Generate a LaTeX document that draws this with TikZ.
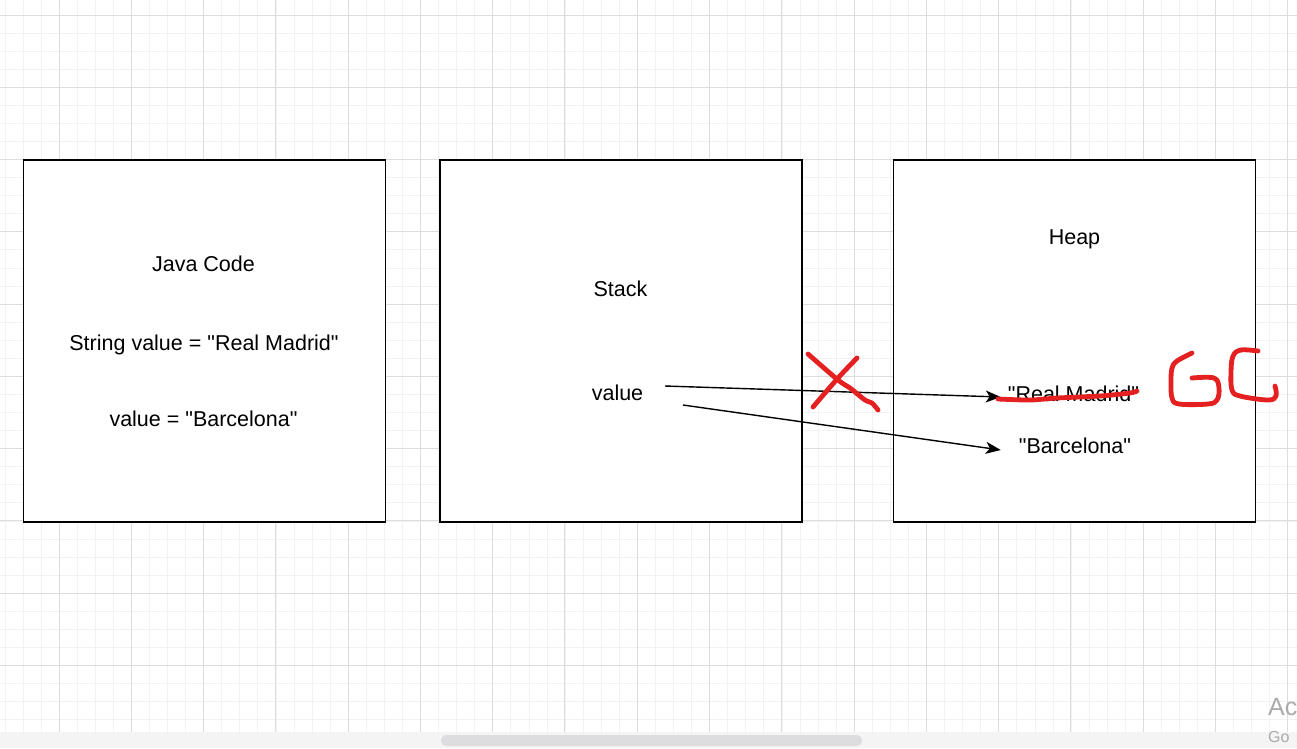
\documentclass[tikz,border=0pt]{standalone}
\usepackage{fontspec}
\setmainfont{Liberation Sans}[Ligatures=TeXOff]
\usetikzlibrary{positioning,arrows.meta}

\definecolor{gridmajor}{RGB}{221,221,221}
\definecolor{gridminor}{RGB}{242,242,242}
\definecolor{inkred}{RGB}{228,32,32}
\definecolor{barbg}{RGB}{244,244,244}
\definecolor{barthumb}{RGB}{221,221,223}
\definecolor{watermark}{RGB}{170,170,170}

\begin{document}
\begin{tikzpicture}[
        x=1pt, y=-1pt,
        panel/.style={
                rectangle,
                draw=black,
                line width=1.4pt,
                minimum width=362pt,
                minimum height=362pt
            },
        caption/.style = {font=\fontsize{21.5}{26}\selectfont, inner sep=0pt, anchor=base},
        ink/.style = {draw=inkred, line width=4.8pt, line cap=round, line join=round},
        >={Stealth[length=15pt,width=12pt,inset=4pt]},
        pointer/.style = {->, line width=1.4pt}
    ]
    \useasboundingbox (0,0) rectangle (1297,748);

    % canvas grid
    \fill[white] (0,0) rectangle (1297,732);
    \foreach \k in {0,...,71}
        \draw[gridminor, line width=1pt] ({5+18.07*\k},0) -- ({5+18.07*\k},732);
    \foreach \k in {0,...,40}
        \draw[gridminor, line width=1pt] (0,{-3+18.07*\k}) -- (1297,{-3+18.07*\k});
    \foreach \k in {0,...,17}
        \draw[gridmajor, line width=1pt] ({59+72.28*\k},0) -- ({59+72.28*\k},732);
    \foreach \k in {0,...,9}
        \draw[gridmajor, line width=1pt] (0,{15+72.28*\k}) -- (1297,{15+72.28*\k});

    % scroll bar
    \fill[barbg] (0,732) rectangle (1297,748);
    \fill[barthumb, rounded corners=5pt] (441,735) rectangle (862,746);

    % panels
    \node[panel, fill=white] (code)  at (204.5,341) {};
    \node[panel, fill=white] (stack) at (621,341)   {};
    \node[panel, fill=white] (heap)  at (1074.5,341) {};

    \node[caption] (codetitle) at (203.5,271) {Java Code};
    \node[caption] (decl)      at (204,350)   {String value = "Real Madrid"};
    \node[caption] (assign)    at (203.5,426.5) {value = "Barcelona"};

    \node[caption] (stacktitle) at (620.5,296.5) {Stack};
    \node[caption] (var)        at (617.5,400)   {value};

    \node[caption] (heaptitle) at (1074.5,244) {Heap};
    \node[caption] (madrid)    at (1073.5,401) {"Real Madrid"};
    \node[caption] (barca)     at (1075,453)   {"Barcelona"};

    \coordinate (tailA) at (665,386);
    \coordinate (tailB) at (683,405);
    \draw[pointer] (tailA) -- ([shift={(-7,-4)}]madrid.base west);
    \draw[pointer] (tailB) -- ([shift={(-18,-3)}]barca.base west);

    % red marks
    \draw[ink] plot[smooth] coordinates {(808,354) (838,380) (850,388) (865,400) (872,403) (878,410)};
    \draw[ink] plot[smooth] coordinates {(857,358) (838,378) (813,407)};
    \draw[ink] plot[smooth] coordinates {(998,399) (1030,400) (1057,398) (1100,396) (1130,393) (1137,391)};
    \draw[ink] plot[smooth, tension=0.6] coordinates {(1192,353) (1177,361) (1172,368) (1171,382) (1172,398) (1179,404) (1208,404) (1217,400) (1219,388) (1214,378) (1192,378)};
    \draw[ink] plot[smooth, tension=0.6] coordinates {(1258,351) (1241,350) (1233,356) (1231,372) (1232,390) (1240,396) (1268,400) (1276,396) (1275,386)};

    % watermark
    \node[watermark, font=\fontsize{25}{30}\selectfont, inner sep=0pt, anchor=base west] (activate) at (1268,715) {Ac};
    \node[watermark, font=\fontsize{16}{19}\selectfont, inner sep=0pt, anchor=base west] (settings) at (1268,742) {Go};
\end{tikzpicture}
\end{document}
